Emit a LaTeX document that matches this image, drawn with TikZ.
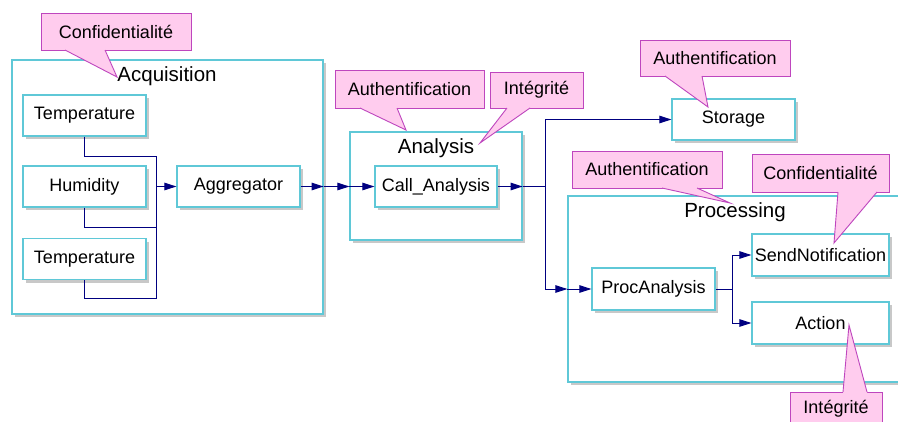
\documentclass[tikz,border=0pt]{standalone}
\usepackage{fontspec}
\setmainfont{Liberation Sans}
\usetikzlibrary{arrows.meta,shadows,calc}
\definecolor{boxline}{RGB}{95,200,215}
\definecolor{shadowgray}{RGB}{200,200,200}
\definecolor{callfill}{RGB}{255,204,238}
\definecolor{callline}{RGB}{190,70,190}
\definecolor{navyline}{RGB}{0,0,128}
\newcommand\ctail[4]{%
  \fill[callfill] ($(#1)+(0,#4)$) -- (#1) -- (#3) -- (#2) -- ($(#2)+(0,#4)$) -- cycle;
  \draw[callline, line width=0.9pt, line join=miter] (#1) -- (#3) -- (#2);}
\begin{document}
\begin{tikzpicture}[x=1pt,y=-1pt,
  shad/.style={drop shadow={shadow xshift=3pt,shadow yshift=-3pt,fill=shadowgray,opacity=1}},
  container/.style={draw=boxline,line width=1.2pt,fill=white,shad,inner sep=0pt},
  comp/.style={draw=boxline,line width=1.2pt,fill=white,shad,inner sep=0pt,
    minimum width=123pt,minimum height=41pt,font=\fontsize{18}{21}\selectfont},
  lbl/.style={inner sep=0pt,font=\fontsize{20.5}{24}\selectfont},
  callbox/.style={draw=callline,fill=callfill,line width=0.9pt,inner sep=0pt,
    font=\fontsize{18}{21}\selectfont},
  conn/.style={draw=navyline,line width=1pt},
  arr/.style={conn,-{Triangle[length=12pt,width=7.5pt]}}]
\useasboundingbox (0,0) rectangle (898,421);
\clip (0,0) rectangle (898,421);
\fill[white] (0,0) rectangle (898,421);

% containers
\node[container,minimum width=311pt,minimum height=254pt] (acq) at (167.5,187) {};
\node[lbl] (acql) at (167,76) {Acquisition};
\node[container,minimum width=172pt,minimum height=108pt] (ana) at (436,186) {};
\node[lbl] (anal) at (436,148) {Analysis};
\node[container,minimum width=372pt,minimum height=186pt] (prc) at (754,289) {};
\node[lbl] (prcl) at (735,212) {Processing};

% components
\node[comp] (t1) at (84.5,115.5) {Temperature};
\node[comp] (hum) at (84.5,186.5) {Humidity};
\node[comp] (t2) at (84.5,259) {Temperature};
\node[comp] (agg) at (238.5,186.5) {Aggregator};
\node[comp,minimum width=122pt] (call) at (436,186.5) {Call\_Analysis};
\node[comp] (stor) at (733.5,119.5) {Storage};
\node[comp,minimum height=42pt] (proc) at (653.5,289) {ProcAnalysis};
\node[comp,minimum width=137pt,minimum height=42pt] (send) at (820.5,255) {SendNotification};
\node[comp,minimum width=137pt,minimum height=42pt] (act) at (820.5,323) {Action};

% connectors
\coordinate (bt) at (156,156);
\coordinate (bm) at (156,227);
\coordinate (bb) at (156,298);
\coordinate (ba) at (156,186.5);
\draw[conn] (t1.south) |- (bt) -- (bb) -| (t2.south);
\draw[conn] (hum.south) |- (bm);
\draw[arr] (ba) -- (agg.west);
\draw[arr] (agg.east) -- (acq.east |- agg.east);
\draw[arr] (acq.east |- agg.east) -- (ana.west |- agg.east);
\draw[arr] (ana.west |- call.west) -- (call.west);
\draw[arr] (call.east) -- (ana.east |- call.east);
\coordinate (j1) at (545,186.5);
\draw[conn] (ana.east |- call.east) -- (j1);
\draw[arr] (j1) |- (stor.west);
\draw[arr] (j1) |- (prc.west |- proc.west);
\draw[arr] (prc.west |- proc.west) -- (proc.west);
\coordinate (j2) at (732,289);
\draw[conn] (proc.east) -- (j2);
\draw[arr] (j2) |- (send.west);
\draw[arr] (j2) |- (act.west);

% callouts
\node[callbox,minimum width=150pt,minimum height=37pt] (cf1) at (116,31.5) {Confidentialité};
\coordinate (cf1a) at (65,50); \coordinate (cf1b) at (105,50); \coordinate (cf1t) at (117,77);
\ctail{cf1a}{cf1b}{cf1t}{-1.5}

\node[callbox,minimum width=149pt,minimum height=38pt] (au1) at (409.5,89) {Authentification};
\coordinate (au1a) at (360,108); \coordinate (au1b) at (397,108); \coordinate (au1t) at (406,130);
\ctail{au1a}{au1b}{au1t}{-1.5}

\node[callbox,minimum width=93pt,minimum height=36pt] (in1) at (536.5,90) {Intégrité};
\coordinate (in1a) at (507,108); \coordinate (in1b) at (530,108); \coordinate (in1t) at (480,143);
\ctail{in1a}{in1b}{in1t}{-1.5}

\node[callbox,minimum width=150pt,minimum height=36pt] (au2) at (715,58) {Authentification};
\coordinate (au2a) at (665,76); \coordinate (au2b) at (702,76); \coordinate (au2t) at (708,107);
\ctail{au2a}{au2b}{au2t}{-1.5}

\node[callbox,minimum width=150pt,minimum height=37pt] (au3) at (647,169.5) {Authentification};
\coordinate (au3a) at (662,188); \coordinate (au3b) at (697,188); \coordinate (au3t) at (730,203);
\ctail{au3a}{au3b}{au3t}{-1.5}

\node[callbox,minimum width=137pt,minimum height=38pt] (cf2) at (820.5,173) {Confidentialité};
\coordinate (cf2a) at (838,192); \coordinate (cf2b) at (877,192); \coordinate (cf2t) at (834,243);
\ctail{cf2a}{cf2b}{cf2t}{-1.5}

\node[callbox,minimum width=92pt,minimum height=34pt] (in2) at (836,409) {Intégrité};
\coordinate (in2a) at (843,392); \coordinate (in2b) at (867,392); \coordinate (in2t) at (849,325);
\ctail{in2a}{in2b}{in2t}{1.5}
\end{tikzpicture}
\end{document}
